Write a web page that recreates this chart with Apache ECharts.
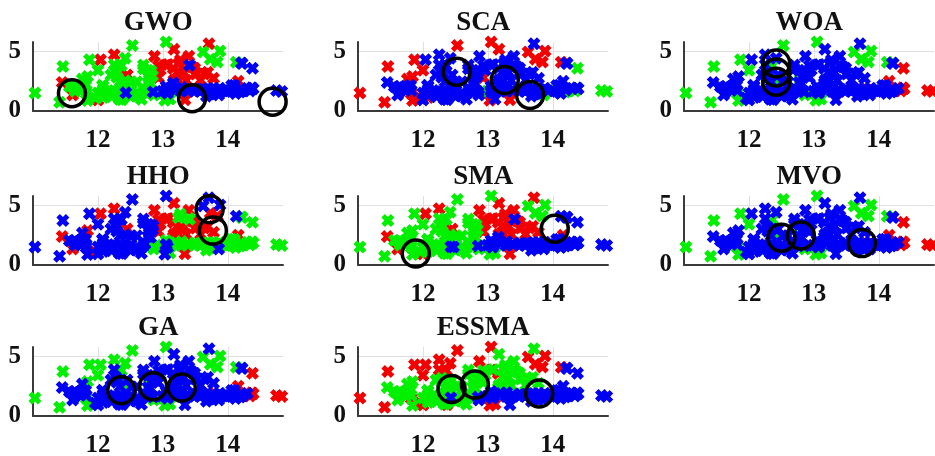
<!DOCTYPE html>
<html>
<head>
<meta charset="utf-8">
<script src="https://cdn.jsdelivr.net/npm/echarts@6/dist/echarts.min.js"></script>
<style>html,body{margin:0;padding:0;background:#fff;}#c{width:935px;height:456px;}</style>
</head>
<body>
<div id="c"></div>
<script>
// Sample coordinates (alcohol, malic acid)
const alcohol = [14.23,13.2,13.16,14.37,13.24,14.2,14.39,14.06,14.83,13.86,
14.1,14.12,13.75,14.75,14.38,13.63,14.3,13.83,14.19,13.64,
14.06,12.93,13.71,12.85,13.5,13.05,13.39,13.3,13.87,14.02,
13.73,13.58,13.68,13.76,13.51,13.48,13.28,13.05,13.07,14.22,
13.56,13.41,13.88,13.24,13.05,14.21,14.38,13.9,14.1,13.94,
13.05,13.83,13.82,13.77,13.74,13.56,14.22,13.29,13.72,12.37,
12.33,12.64,13.67,12.37,12.17,12.37,13.11,12.37,13.34,12.21,
12.29,13.86,13.49,12.99,11.96,11.66,13.03,11.84,12.33,12.7,
12,12.72,12.08,13.05,11.84,12.67,12.16,11.65,11.64,12.08,
12.08,12,12.69,12.29,11.62,12.47,11.81,12.29,12.37,12.29,
12.08,12.6,12.34,11.82,12.51,12.42,12.25,12.72,12.22,11.61,
11.46,12.52,11.76,11.41,12.08,11.03,11.82,12.42,12.77,12,
11.45,11.56,12.42,13.05,11.87,12.07,12.43,11.79,12.37,12.04,
12.86,12.88,12.81,12.7,12.51,12.6,12.25,12.53,13.49,12.84,
12.93,13.36,13.52,13.62,12.25,13.16,13.88,12.87,13.32,13.08,
13.5,12.79,13.11,13.23,12.58,13.17,13.84,12.45,14.34,13.48,
12.36,13.69,12.85,12.96,13.78,13.73,13.45,12.82,13.58,13.4,
12.2,12.77,14.16,13.71,13.4,13.27,13.17,14.13];
const malic = [1.71,1.78,2.36,1.95,2.59,1.76,1.87,2.15,1.64,1.35,
2.16,1.48,1.73,1.73,1.87,1.81,1.92,1.57,1.59,3.1,
1.63,3.8,1.86,1.6,1.81,2.05,1.77,1.72,1.9,1.68,
1.5,1.66,1.83,1.53,1.8,1.81,1.64,1.65,1.5,3.99,
1.71,3.84,1.89,3.98,1.77,4.04,3.59,1.68,2.02,1.73,
1.73,1.65,1.75,1.9,1.67,1.73,1.7,1.97,1.43,0.94,
1.1,1.36,1.25,1.13,1.45,1.21,1.01,1.17,0.94,1.19,
1.61,1.51,1.66,1.67,1.09,1.88,0.9,2.89,0.99,3.87,
0.92,1.81,1.13,3.86,0.89,0.98,1.61,1.67,2.06,1.33,
1.83,1.51,1.53,2.83,1.99,1.52,2.12,1.41,1.07,3.17,
2.08,1.34,2.45,1.72,1.73,2.55,1.73,1.75,1.29,1.35,
3.74,2.43,2.68,0.74,1.39,1.51,1.47,1.61,3.43,3.43,
2.4,2.05,4.43,5.8,4.31,2.16,1.53,2.13,1.63,4.3,
1.35,2.99,2.31,3.55,1.24,2.46,4.72,5.51,3.59,2.96,
2.81,2.56,3.17,4.95,3.88,3.57,5.04,4.61,3.24,3.9,
3.12,2.67,1.9,3.3,1.29,5.19,4.12,3.03,1.68,1.67,
3.83,3.26,3.27,3.45,2.76,4.36,3.7,3.37,2.58,4.6,
3.03,2.39,2.51,5.65,3.91,4.28,2.59,4.1];

const algorithms = ['GWO','SCA','WOA','HHO','SMA','MVO','GA','ESSMA'];

// cluster label per sample (r / g / b), one string per algorithm
const labelsGWO = ['bbbbrbbbbb','bbbbbbbbbr','brbbbbbbbb','bbbbbbbbbb','bbbrbbbbbb','bbbbbbbbbg','ggbgggggrg','gbbbgggggg','rggrgggggg','gggggggggg','gggggggggr','gggggggggg','rgggggbggr','grggggrgrg','rrrggrgrrr','rgbrgrgrbb','grrrrgrgrr','ggrrrrrg'].join('');
const labelsSCA = ['gbbbbbbbgg','bbbggbbggb','bbbbbbbbbb','bbbbbbbbbb','bbbbbbggbg','bbbbbbgbbb','bbbbbbbbrb','bgbgrbrrbb','bbrbrbbbbb','bbbbbbbbbb','bbbbbbbbbb','rbrrbrrbbr','bbbrrbbbbb','brbbbbbrbb','rbbrbbrbbb','bbbbbrrbgb','bbbbbrbbbb','bbbbbbbr'].join('');
const labelsWOA = ['bbbrbbrbrb','bbbrrbbbbb','bbrbbbbbbb','bbbbbbbbbb','bbbbbbrbbb','bbrbbbrbbb','bbbbbbgbbb','bbbbbbgbbb','bbbbgbbbbb','bbbbbbbbbb','bbbbbgbbbb','gbbgbggbbg','bbbggbbgbb','gbbbbbbgbb','bbbgbbgbbb','bgbbbbgbrb','gbbbbgbbbb','bbrbbbbg'].join('');
const labelsHHO = ['ggrgrggggb','gggggggggr','grgggggggg','gggggggbbg','gggggggggg','bggggggggb','bbgbbbgbrb','bgggrbbrbb','bbbrbbbbbb','bbbbbbbbbb','bbbbbbbbbr','bbbbbbbbbb','rbbbbbbbbr','grbbbbrbrb','rrrbbrbrrr','rbgrbrrrgg','brbrrrrbrr','bbrbggrb'].join('');
const labelsSMA = ['bbbbrbbbbb','bbbbbbbbbr','brbbbbbbbb','bbbbbbbbbb','bbbrbbbbbb','bbbbbbbbbg','ggbgggggrg','gbbbgggggg','rggrgggggg','gggggbgggg','gggggggggr','gggggggggg','rgggggbggr','grggggrgrg','rrrggrgrrr','rgbrgrgrbb','grrrrgrgrr','ggrrrrrb'].join('');
const labelsMVO = ['bbbrbbrbrb','bbbrrbbbbb','bbrbbbbbbb','bbbbbbbbbb','bbbbbbrbbb','bbrbbbrbbb','bbbbbbgbbb','bbbbbbgbbb','bbbbgbbbbb','bbbbbbbbbb','bbbbbgbbbb','gbbgbggbbg','bbbggbbgbb','gbbbbbbgbb','bbbgbbgbbb','bgbbbbgbrb','gbbbbgbbbb','bbrbbbbg'].join('');
const labelsGA = ['bbbrbbrbrb','bbbrrbbbbb','bbrbbbbbbb','bbbbbbbbbb','bbbbbbrbbb','bbrbbbrbbb','bbbbbbgbbb','bbbbbbggbb','bbbbgbbbbb','bbbbbbbbbb','bbbbbgbbbb','gbbgbggbbg','bbgggbbgbg','gbbbbbggbb','bbbgbbgbbb','bgbbbbgbrb','gbbbbgbbbb','bbrbbbbg'].join('');
const labelsESSMA = ['bbgbgbbbbb','bbbbbbbbbg','bgbbbbbbbb','bbbbbbbbbb','bgbgbbbbbb','bbbbbbbbbr','ggbgggrgbg','gbbbrgrggg','rggrgggggg','gggggggrgg','gggggggggg','rggrgrrggr','ggrrrgbggr','bgggggrrgg','gggrrrrrgg','ggbgggrgbb','rggggrgggg','ggbggggr'].join('');

// cluster centres per algorithm
const centersGWO = [[11.60,1.49],[13.45,1.07],[14.69,0.78]];
const centersSCA = [[12.52,3.30],[13.26,2.60],[13.65,1.34]];
const centersWOA = [[12.42,4.00],[12.42,3.23],[12.42,2.46]];
const centersHHO = [[13.72,4.69],[13.77,2.89]];
const centersSMA = [[11.89,0.97],[14.03,3.05]];
const centersMVO = [[12.50,2.29],[12.80,2.48],[13.74,1.84]];
const centersGA = [[12.36,2.17],[12.85,2.50],[13.29,2.39]];
const centersESSMA = [[12.44,2.28],[12.80,2.64],[13.79,1.89]];

const xTicks = [12,13,14];
const yTicks = [0,5];

const labelSets = [labelsGWO,labelsSCA,labelsWOA,labelsHHO,labelsSMA,labelsMVO,labelsGA,labelsESSMA];
const centerSets = [centersGWO,centersSCA,centersWOA,centersHHO,centersSMA,centersMVO,centersGA,centersESSMA];

const colorMap = {r:'#f20000', g:'#00f000', b:'#0000f5'};
const X_PATH = 'path://M0,2.7L2.7,0L5,2.3L7.3,0L10,2.7L7.7,5L10,7.3L7.3,10L5,7.7L2.7,10L0,7.3L2.3,5Z';
const FONT = '"Liberation Serif","Times New Roman",serif';

const colLeft = [33, 358, 684];
const rowTop = [42, 196, 347];
const GW = 250, GH = 69;
const XMIN = 11, XMAX = 14.85;

const grids = [], xAxes = [], yAxes = [], series = [], graphics = [];
algorithms.forEach((name, k) => {
  const col = k % 3, row = Math.floor(k / 3);
  grids.push({left: colLeft[col], top: rowTop[row], width: GW, height: GH, outerBoundsMode: 'none', containLabel: false});
  const axisLine = {show: true, onZero: false, lineStyle: {color: '#3a3a3a', width: 2}};
  const lbl = {fontFamily: FONT, fontWeight: 'bold', fontSize: 25, color: '#111', lineHeight: 25};
  xAxes.push({gridIndex: k, type: 'value', min: XMIN, max: XMAX, interval: xTicks[1]-xTicks[0],
    axisLine, axisTick: {show: false},
    axisLabel: Object.assign({margin: 17, showMinLabel: false, showMaxLabel: false, hideOverlap: false}, lbl),
    splitLine: {show: true, showMinLine: false, showMaxLine: false, lineStyle: {color: '#e0e0e0', width: 1}}});
  yAxes.push({gridIndex: k, type: 'value', min: yTicks[0], max: 5.8, interval: yTicks[1]-yTicks[0],
    axisLine, axisTick: {show: false},
    axisLabel: Object.assign({margin: 12, showMaxLabel: false, hideOverlap: false}, lbl),
    splitLine: {show: true, showMinLine: false, showMaxLine: false, lineStyle: {color: '#e0e0e0', width: 1}}});
  graphics.push({type: 'text', x: colLeft[col] + (12.93 - XMIN) * GW / (XMAX - XMIN), y: rowTop[row] - 18.5,
    style: {text: name, font: 'bold 27px ' + FONT, fill: '#111', align: 'center', verticalAlign: 'middle'}});
  const labs = labelSets[k];
  ['r','g','b'].forEach(c => {
    const data = [];
    for (let i = 0; i < alcohol.length; i++) if (labs[i] === c) data.push([alcohol[i], malic[i]]);
    series.push({type: 'scatter', xAxisIndex: k, yAxisIndex: k, data, symbol: X_PATH, symbolSize: 13,
      itemStyle: {color: colorMap[c], opacity: 1}, silent: true, animation: false, z: 2});
  });
  series.push({type: 'scatter', xAxisIndex: k, yAxisIndex: k, data: centerSets[k], symbol: 'circle', symbolSize: 27,
    itemStyle: {color: 'rgba(0,0,0,0)', borderColor: '#000', borderWidth: 3.5, opacity: 1}, silent: true, animation: false, z: 3});
});

const chart = echarts.init(document.getElementById('c'), null, {renderer: 'canvas'});
chart.setOption({backgroundColor: '#fff', animation: false, grid: grids, xAxis: xAxes, yAxis: yAxes, series, graphic: graphics});
</script>
</body>
</html>
